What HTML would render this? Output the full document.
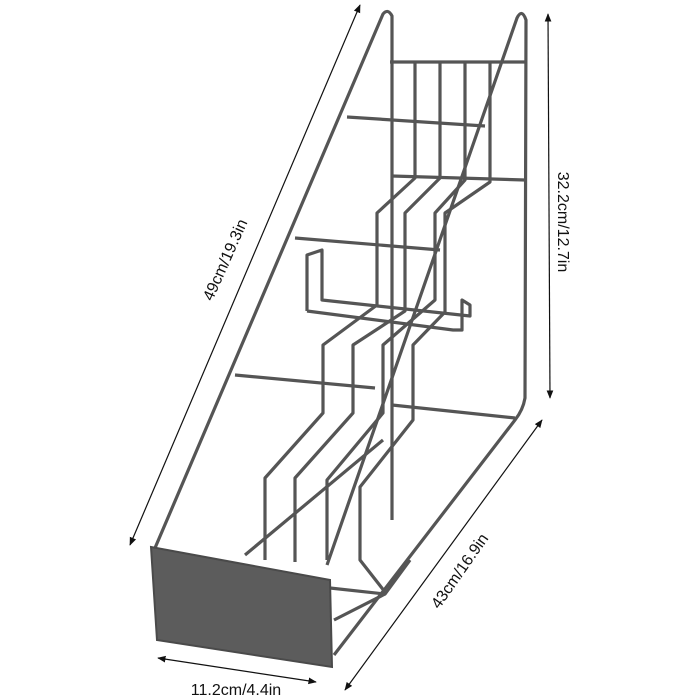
<!DOCTYPE html>
<html><head><style>
html,body{margin:0;padding:0;background:#fff;}
svg{display:block}
text{font-family:"Liberation Sans",sans-serif;font-size:16px;fill:#111}
</style></head><body>
<svg width="700" height="700" viewBox="0 0 700 700" xmlns="http://www.w3.org/2000/svg">
<defs>
<marker id="a" viewBox="0 0 10 10" refX="9" refY="5" markerWidth="7" markerHeight="7" orient="auto-start-reverse"><path d="M0,1 L10,5 L0,9 z" fill="#111"/></marker>
</defs>
<g stroke="#111" stroke-width="1.2" fill="none">
<line x1="130" y1="545" x2="360" y2="5" marker-start="url(#a)" marker-end="url(#a)"/>
<line x1="548" y1="14" x2="550" y2="398" marker-start="url(#a)" marker-end="url(#a)"/>
<line x1="345" y1="690" x2="542" y2="420" marker-start="url(#a)" marker-end="url(#a)"/>
<line x1="158" y1="658" x2="316" y2="682" marker-start="url(#a)" marker-end="url(#a)"/>
</g>
<text transform="translate(230,262) rotate(-66)" text-anchor="middle">49cm/19.3in</text>
<text transform="translate(558,222) rotate(90)" text-anchor="middle">32.2cm/12.7in</text>
<text transform="translate(464,574) rotate(-55)" text-anchor="middle">43cm/16.9in</text>
<text x="236" y="695" text-anchor="middle">11.2cm/4.4in</text>

<g stroke="#555" stroke-width="3.2" fill="none" stroke-linejoin="round">
<path d="M155,548 L383,14 Q388,8 392,16 L392,520"/>
<path d="M327,565 L517,18 Q522,8 526,20 L525,398 Q523,410 515,420 L334,655"/>
<path d="M392,405 L515,418"/>
<line x1="390" y1="62" x2="525" y2="62"/>
<line x1="392" y1="176" x2="525" y2="180"/>
<line x1="347" y1="117" x2="485" y2="126"/>
<line x1="295" y1="238" x2="440" y2="250"/>
<line x1="235" y1="375" x2="375" y2="388"/>
<path d="M265,560 V478 L323,413 V345 L377,305 V213 L415,178 V62"/>
<path d="M295,562 V478 L353,413 V345 L405,311 V213 L440,178 V62"/>
<path d="M327,560 V480 L383,413 V345 L435,300 V213 L465,180 V62"/>
<path d="M385,592 L360,560 V487 L413,420 V345 L445,312 V213 L490,182 V62"/>
<path d="M307,311 V255 L322,250 V300 L470,316 V305 L462,300 V330 L453,330 L307,311"/>
<path d="M245,555 L383,440"/>
<path d="M330,588 L385,594 L410,560"/>
<path d="M334,620 L385,594"/>
</g>
<path d="M151,547 L330,580 L332,667 L157,640 Z" fill="#5c5c5c" stroke="#4a4a4a" stroke-width="2"/>
</svg>
</body></html>
